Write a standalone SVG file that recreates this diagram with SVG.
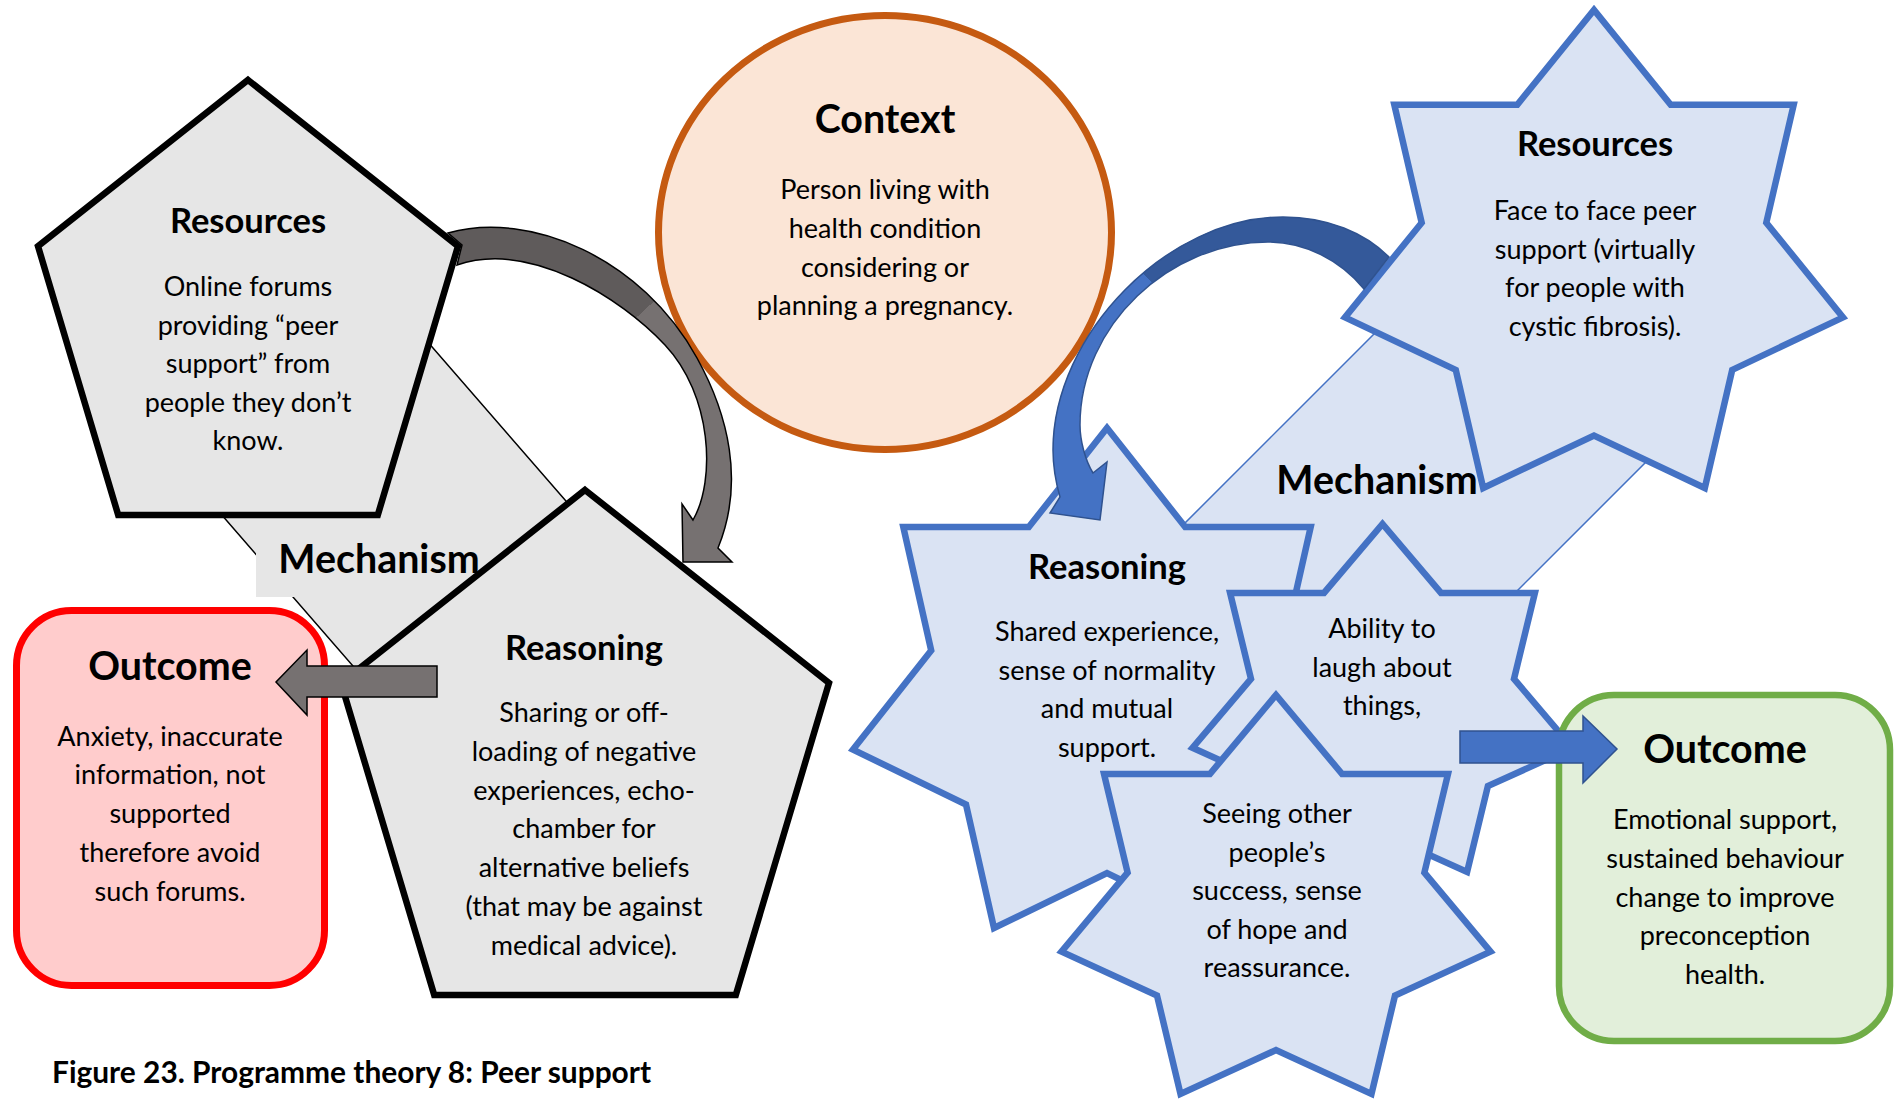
<svg xmlns="http://www.w3.org/2000/svg" width="1903" height="1112" viewBox="0 0 1903 1112">
<style>
text { font-family: Lato, 'Liberation Sans', sans-serif; fill: #000; text-anchor: middle; }
.b { font-size: 27px; }
.h1 { font-size: 39.4px; font-weight: 700; }
.h2 { font-size: 34.5px; font-weight: 700; }
.cap { font-size: 29.9px; font-weight: 700; text-anchor: start; }
.gshape { fill: #e6e6e6; stroke: #000; stroke-width: 6.5; stroke-linejoin: miter; }
.bshape { fill: #dae3f3; stroke: #4472c4; stroke-width: 6.5; stroke-linejoin: miter; }
.gband { fill: #e6e6e6; stroke: #000; stroke-width: 1.5; }
.bband { fill: #dae3f3; stroke: #4472c4; stroke-width: 1.5; }
</style>
<defs>
<linearGradient id="gGrey" gradientUnits="userSpaceOnUse" x1="582.5" y1="231.2" x2="717.5" y2="378.8">
<stop offset="0.5" stop-color="#5f5b5b"/><stop offset="0.5" stop-color="#767171"/>
</linearGradient>
<linearGradient id="gBlue" gradientUnits="userSpaceOnUse" x1="1217.7" y1="207.3" x2="1076.3" y2="348.7">
<stop offset="0.5" stop-color="#34599a"/><stop offset="0.5" stop-color="#4472c4"/>
</linearGradient>
</defs>
<rect x="0" y="0" width="1903" height="1112" fill="#fff"/>

<g id="mechanism-left">
<polygon class="gband" points="367.4,272.5 629.8,574.5 426.8,750.9 164.4,448.9"/>
<rect x="256" y="535" width="230" height="62" fill="#e6e6e6"/>
<text class="h1" x="379" y="573">Mechanism</text>
</g>

<g id="resources-left">
<polygon class="gshape" points="248,80 458,246.2 377.8,515 118.2,515 38,246.2"/>
<text class="h2" x="248" y="233">Resources</text>
<text class="b" x="248" y="296">Online forums</text>
<text class="b" x="248" y="334.5">providing “peer</text>
<text class="b" x="248" y="373">support” from</text>
<text class="b" x="248" y="411.5">people they don’t</text>
<text class="b" x="248" y="450">know.</text>
</g>

<g id="reasoning-left">
<polygon class="gshape" points="585,490 829,682.9 735.8,995 434.2,995 341,682.9"/>
<text class="h2" x="584" y="660">Reasoning</text>
<text class="b" x="584" y="722">Sharing or off-</text>
<text class="b" x="584" y="760.8">loading of negative</text>
<text class="b" x="584" y="799.6">experiences, echo-</text>
<text class="b" x="584" y="838.4">chamber for</text>
<text class="b" x="584" y="877.2">alternative beliefs</text>
<text class="b" x="584" y="916">(that may be against</text>
<text class="b" x="584" y="954.8">medical advice).</text>
</g>

<g id="outcome-left">
<rect x="16.5" y="610.5" width="308" height="375" rx="55" fill="#ffcccc" stroke="#ff0000" stroke-width="7"/>
<text class="h1" x="170" y="680">Outcome</text>
<text class="b" x="170" y="745.5">Anxiety, inaccurate</text>
<text class="b" x="170" y="784.3">information, not</text>
<text class="b" x="170" y="823.1">supported</text>
<text class="b" x="170" y="861.9">therefore avoid</text>
<text class="b" x="170" y="900.7">such forums.</text>
</g>

<g id="context">
<ellipse cx="885" cy="232.5" rx="226.5" ry="217" fill="#fbe5d6" stroke="#c55a11" stroke-width="7"/>
<text class="h1" x="885" y="133">Context</text>
<text class="b" x="885" y="199">Person living with</text>
<text class="b" x="885" y="237.8">health condition</text>
<text class="b" x="885" y="276.6">considering or</text>
<text class="b" x="885" y="315.4">planning a pregnancy.</text>
</g>

<g id="mechanism-right">
<polygon class="bband" points="1465,243 1665,443 1339.7,768.3 1139.7,568.3"/>
<text class="h1" x="1377" y="494">Mechanism</text>
</g>

<g id="resources-right">
<polygon class="bshape" points="1345,317.4 1421.7,222.7 1394.3,104.7 1517.3,104.7 1594,10 1670.7,104.7 1793.7,104.7 1766.3,222.7 1843,317.4 1732.2,369.9 1704.8,488 1594,435.5 1483.2,488 1455.8,369.9"/>
<text class="h2" x="1595" y="156">Resources</text>
<text class="b" x="1595" y="220">Face to face peer</text>
<text class="b" x="1595" y="258.5">support (virtually</text>
<text class="b" x="1595" y="297">for people with</text>
<text class="b" x="1595" y="335.5">cystic fibrosis).</text>
</g>

<g id="reasoning-right">
<polygon class="bshape" points="853,749.6 931.2,650.5 903.3,527 1028.8,527 1107,428 1185.2,527 1310.7,527 1282.8,650.5 1361,749.6 1248,804.5 1220,928 1107,873 994,928 966,804.5"/>
<text class="h2" x="1107" y="579">Reasoning</text>
<text class="b" x="1107" y="641">Shared experience,</text>
<text class="b" x="1107" y="679.5">sense of normality</text>
<text class="b" x="1107" y="718">and mutual</text>
<text class="b" x="1107" y="756.5">support.</text>
</g>

<g id="ability">
<polygon class="bshape" points="1192.5,747.8 1251,678.9 1230.1,592.9 1324,592.9 1382.5,524 1441,592.9 1534.9,592.9 1514,678.9 1572.5,747.8 1487.9,786.1 1467.1,872 1382.5,833.8 1297.9,872 1277.1,786.1"/>
<text class="b" x="1382" y="638">Ability to</text>
<text class="b" x="1382" y="676.5">laugh about</text>
<text class="b" x="1382" y="715">things,</text>
</g>

<g id="seeing">
<polygon class="bshape" points="1061.5,951.6 1127.6,872.6 1104,774 1209.9,774 1276,695 1342.1,774 1448,774 1424.4,872.6 1490.5,951.6 1395,995.5 1371.5,1094 1276,1050.1 1180.5,1094 1157,995.5"/>
<text class="b" x="1277" y="823">Seeing other</text>
<text class="b" x="1277" y="861.5">people’s</text>
<text class="b" x="1277" y="900">success, sense</text>
<text class="b" x="1277" y="938.5">of hope and</text>
<text class="b" x="1277" y="977">reassurance.</text>
</g>

<g id="outcome-right">
<rect x="1559" y="695" width="331" height="346" rx="55" fill="#e2efda" stroke="#70ad47" stroke-width="6.5"/>
<text class="h1" x="1725" y="763">Outcome</text>
<text class="b" x="1725" y="829">Emotional support,</text>
<text class="b" x="1725" y="867.8">sustained behaviour</text>
<text class="b" x="1725" y="906.6">change to improve</text>
<text class="b" x="1725" y="945.4">preconception</text>
<text class="b" x="1725" y="984.2">health.</text>
</g>

<g id="caption">
<text class="cap" x="52" y="1083">Figure 23. Programme theory 8: Peer support</text>
</g>

<g id="connectors">
<path d="M448,233 C530,210 642,258 697,358 C728,414 745,482 718,548 L732,562 L683,562 L682,504 L693,520 C716,480 712,395 665,345 C621,298 530,240 457,265 L462,245 Z" fill="url(#gGrey)" stroke="#000" stroke-width="1.5" stroke-linejoin="miter"/>
<polygon points="437,666 307,666 307,650 276,682 307,715 307,697 437,697" fill="#767171" stroke="#000" stroke-width="1.5"/>
<path d="M1389,257 C1365,233 1328,217 1283,217 C1168,217 1053,334 1053,450 C1053,468 1056,483 1060,497 L1050,513 L1100,520 L1107,462 L1093,473 C1085,460 1080,440 1080,425 C1080,325 1170,242 1268,242 C1305,242 1340,260 1364,289 Z" fill="url(#gBlue)" stroke="#2f528f" stroke-width="1.5"/>
<polygon points="1460,731 1583,731 1583,716 1617,749 1583,783 1583,763 1460,763" fill="#4472c4" stroke="#2f528f" stroke-width="1.5"/>
</g>
</svg>
